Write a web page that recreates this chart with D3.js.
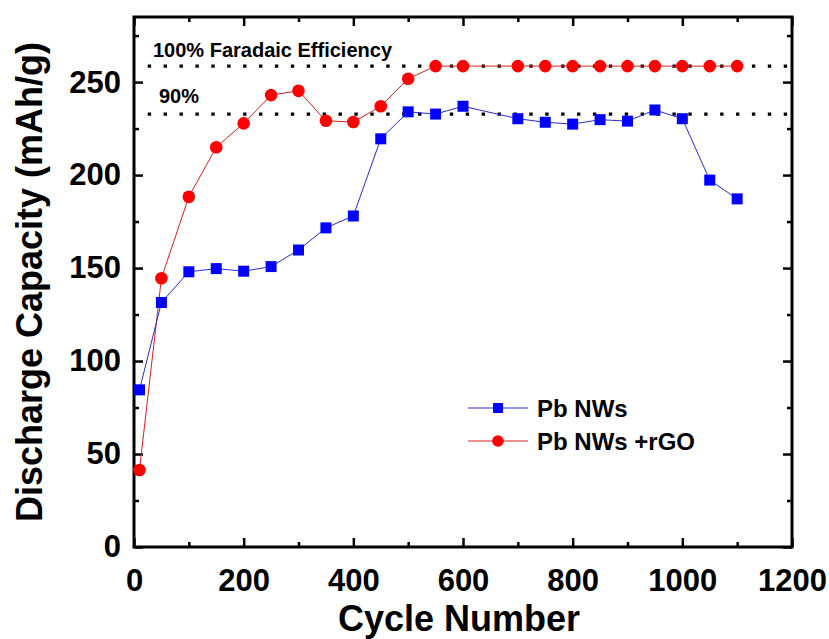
<!DOCTYPE html>
<html>
<head>
<meta charset="utf-8">
<script src="https://cdnjs.cloudflare.com/ajax/libs/d3/7.8.5/d3.min.js"></script>
<style>
  html, body { margin: 0; padding: 0; background: #fff; }
  svg text { font-family: "Liberation Sans", Arial, sans-serif; font-weight: bold; fill: #000; }
</style>
</head>
<body>
<div id="chart"></div>
<script>
// cycle numbers shared by both series
var cycles = [10, 50, 100, 150, 200, 250, 300, 350, 400, 450, 500, 550, 600,
              700, 750, 800, 850, 900, 950, 1000, 1050, 1100];

var pbNWs = [84.5, 131.5, 148, 149.7, 148.3, 150.8, 159.7, 171.6, 178, 219.5, 234, 232.8, 237,
             230.3, 228.4, 227.4, 229.8, 229, 235, 230.3, 197.3, 187.2];

var pbNWsRGO = [41.4, 144.5, 188.3, 215, 227.8, 243, 245.3, 229.2, 228.5, 237, 251.8, 258.6, 258.6,
                258.6, 258.6, 258.6, 258.6, 258.6, 258.6, 258.6, 258.6, 258.6];

var xTicks = [0, 200, 400, 600, 800, 1000, 1200];
var yTicks = [0, 50, 100, 150, 200, 250];

// reference capacities (dotted lines)
var refLines = [
  { label: '100% Faradaic Efficiency', value: 258.6 },
  { label: '90%', value: 232.8 }
];
var refSpan = [25, 1192];

var W = 829, H = 639,
    margin = { top: 17, right: 37, bottom: 92, left: 134 },
    w = W - margin.left - margin.right,
    h = H - margin.top - margin.bottom;

var svg = d3.select('#chart')
            .append('svg')
            .attr('width', W)
            .attr('height', H);

var g = svg.append('g')
           .attr('transform', 'translate(' + margin.left + ',' + margin.top + ')');

var x = d3.scaleLinear().domain([0, 1200]).range([0, w]),
    y = d3.scaleLinear().domain([0, 285]).range([h, 0]);

// axes: major + minor ticks pointing inward on all four sides
function styleAxis(sel) {
  sel.select('.domain').remove();
  sel.selectAll('.tick line').attr('stroke', '#000').attr('stroke-width', 2.5);
}

var xMinor = d3.range(100, 1200, 200),
    yMinor = d3.range(25, 285, 50);

g.append('g')
  .attr('transform', 'translate(0,' + h + ')')
  .call(d3.axisBottom(x).tickValues(xMinor).tickSizeInner(-5).tickSizeOuter(0).tickFormat(''))
  .call(styleAxis);
g.append('g')
  .attr('class', 'x-axis')
  .attr('transform', 'translate(0,' + h + ')')
  .call(d3.axisBottom(x).tickValues(xTicks).tickSizeInner(-9).tickSizeOuter(0).tickPadding(22).tickFormat(d3.format('d')))
  .call(styleAxis);
g.append('g')
  .call(d3.axisTop(x).tickValues(xMinor).tickSizeInner(-5).tickSizeOuter(0).tickFormat(''))
  .call(styleAxis);
g.append('g')
  .call(d3.axisTop(x).tickValues(xTicks).tickSizeInner(-9).tickSizeOuter(0).tickFormat(''))
  .call(styleAxis);

g.append('g')
  .call(d3.axisLeft(y).tickValues(yMinor).tickSizeInner(-5).tickSizeOuter(0).tickFormat(''))
  .call(styleAxis);
g.append('g')
  .attr('class', 'y-axis')
  .call(d3.axisLeft(y).tickValues(yTicks).tickSizeInner(-9).tickSizeOuter(0).tickPadding(13))
  .call(styleAxis);
g.append('g')
  .attr('transform', 'translate(' + w + ',0)')
  .call(d3.axisRight(y).tickValues(yMinor).tickSizeInner(-5).tickSizeOuter(0).tickFormat(''))
  .call(styleAxis);
g.append('g')
  .attr('transform', 'translate(' + w + ',0)')
  .call(d3.axisRight(y).tickValues(yTicks).tickSizeInner(-9).tickSizeOuter(0).tickFormat(''))
  .call(styleAxis);

g.selectAll('.x-axis text, .y-axis text')
  .style('font-family', '"Liberation Sans", Arial, sans-serif')
  .style('font-weight', 'bold')
  .style('font-size', '31px')
  .attr('fill', '#000');

// frame
g.append('rect')
  .attr('width', w)
  .attr('height', h)
  .attr('fill', 'none')
  .attr('stroke', '#000')
  .attr('stroke-width', 3);

// dotted reference lines
g.selectAll('.ref')
  .data(refLines)
  .enter()
    .append('line')
    .attr('class', 'ref')
    .attr('x1', x(refSpan[0]))
    .attr('x2', x(refSpan[1]))
    .attr('y1', function(d) { return y(d.value); })
    .attr('y2', function(d) { return y(d.value); })
    .attr('stroke', '#000')
    .attr('stroke-width', 3.2)
    .attr('stroke-dasharray', '3.4,12.5');

g.append('text')
  .attr('x', 19)
  .attr('y', y(refLines[0].value) - 9)
  .style('font-size', '20px')
  .text(refLines[0].label);
g.append('text')
  .attr('x', 25)
  .attr('y', y(refLines[1].value) - 11)
  .style('font-size', '20px')
  .text(refLines[1].label);

// series
var series = [
  { name: 'Pb NWs', values: pbNWs, color: '#0000ff', line: '#2b2bd0', shape: 'square' },
  { name: 'Pb NWs +rGO', values: pbNWsRGO, color: '#ff0000', line: '#d42020', shape: 'circle' }
];

var line = d3.line()
             .x(function(d) { return x(d[0]); })
             .y(function(d) { return y(d[1]); });

series.slice().reverse().forEach(function(s) {
  var pts = cycles.map(function(c, i) { return [c, s.values[i]]; });
  g.append('path')
    .datum(pts)
    .attr('d', line)
    .attr('fill', 'none')
    .attr('stroke', s.line)
    .attr('stroke-width', 1);
  if (s.shape === 'square') {
    g.selectAll('.sq')
      .data(pts)
      .enter()
        .append('rect')
        .attr('x', function(d) { return x(d[0]) - 5.5; })
        .attr('y', function(d) { return y(d[1]) - 5.5; })
        .attr('width', 11)
        .attr('height', 11)
        .attr('fill', s.color);
  } else {
    g.selectAll('.ci')
      .data(pts)
      .enter()
        .append('circle')
        .attr('cx', function(d) { return x(d[0]); })
        .attr('cy', function(d) { return y(d[1]); })
        .attr('r', 6.3)
        .attr('fill', s.color);
  }
});

// legend
var legend = g.append('g')
              .attr('transform', 'translate(' + (468 - margin.left) + ',' + (408 - margin.top) + ')');
series.forEach(function(s, i) {
  var row = legend.append('g').attr('transform', 'translate(0,' + (i * 33) + ')');
  row.append('line')
    .attr('x1', 0).attr('x2', 60)
    .attr('stroke', s.line).attr('stroke-width', 1);
  if (s.shape === 'square') {
    row.append('rect').attr('x', 25).attr('y', -5).attr('width', 10).attr('height', 10).attr('fill', s.color);
  } else {
    row.append('circle').attr('cx', 30).attr('r', 5.8).attr('fill', s.color);
  }
  row.append('text')
    .attr('x', 69)
    .attr('y', 9)
    .style('font-size', '24px')
    .text(s.name);
});

// axis titles
svg.append('text')
  .attr('x', margin.left + w / 2 - 4)
  .attr('y', 631)
  .attr('text-anchor', 'middle')
  .style('font-size', '36px')
  .text('Cycle Number');

svg.append('text')
  .attr('transform', 'translate(42,' + (margin.top + h / 2) + ') rotate(-90)')
  .attr('text-anchor', 'middle')
  .style('font-size', '36px')
  .text('Discharge Capacity (mAh/g)');
</script>
</body>
</html>
